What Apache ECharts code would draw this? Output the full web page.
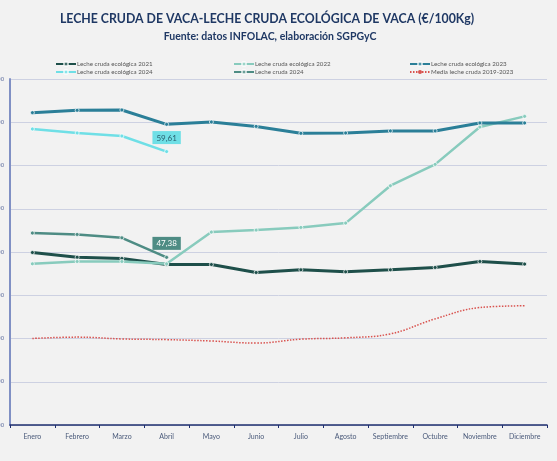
<!DOCTYPE html>
<html>
<head>
<meta charset="utf-8">
<script src="https://cdn.jsdelivr.net/npm/echarts@6/dist/echarts.min.js"></script>
<style>
  html, body { margin: 0; padding: 0; background: #f2f2f2; }
  #chart { width: 557px; height: 461px; }
</style>
</head>
<body>
<div id="chart"></div>
<script>
// datos
const meses = ["Enero", "Febrero", "Marzo", "Abril", "Mayo", "Junio", "Julio", "Agosto", "Septiembre", "Octubre", "Noviembre", "Diciembre"];
const eco2021 = [47.94, 47.40, 47.25, 46.55, 46.55, 45.63, 45.94, 45.71, 45.94, 46.21, 46.90, 46.60];
const eco2022 = [46.63, 46.90, 46.90, 46.63, 50.30, 50.53, 50.84, 51.34, 55.66, 58.13, 62.45, 63.68];
const eco2023 = [64.11, 64.38, 64.42, 62.76, 63.03, 62.52, 61.72, 61.76, 62.00, 62.00, 62.92, 62.92];
const eco2024 = [62.22, 61.76, 61.41, 59.61];
const cruda2024 = [50.19, 50.03, 49.64, 47.38];
const media1923 = [38.00, 38.16, 37.95, 37.87, 37.71, 37.47, 37.92, 38.08, 38.53, 40.27, 41.58, 41.78];
const yMin = 28, yMax = 68, yStep = 5;

const chart = echarts.init(document.getElementById("chart"));

const fmt = v => v.toFixed(2).replace(".", ",");

// serie de línea con puntos pequeños
function linea(name, data, color, width) {
  return {
    name: name,
    type: "line",
    data: data,
    symbol: "circle",
    symbolSize: 4,
    lineStyle: { color: color, width: width },
    itemStyle: { color: color, borderColor: "rgba(255,255,255,0.7)", borderWidth: 1 },
    z: 3,
  };
}

// etiqueta solo en el último punto (Abril)
function ultimaEtiqueta(data, bg, txt) {
  return data.map((v, i) => i === data.length - 1 ? {
    value: v,
    label: {
      show: true,
      position: "top",
      distance: 5,
      formatter: p => fmt(p.value),
      backgroundColor: bg,
      color: txt,
      fontSize: 8,
      fontFamily: "Lato",
      padding: [3, 4, 2, 4],
    },
  } : v);
}

const legendBase = {
  orient: "vertical",
  top: 56,
  itemWidth: 20,
  itemHeight: 5,
  itemGap: 2,
  textStyle: { color: "#555", fontSize: 6.2, fontFamily: "Lato", padding: [0, 0, 0, -4] },
};

const option = {
  backgroundColor: "#f2f2f2",
  animation: false,
  graphic: [
    {
      type: "text",
      x: 267,
      y: 19,
      style: {
        text: "LECHE CRUDA DE VACA-LECHE CRUDA ECOLÓGICA DE VACA (€/100Kg)",
        fill: "#1f3864",
        font: "bold 12.3px Lato",
        align: "center",
        verticalAlign: "middle",
      },
    },
    {
      type: "text",
      x: 270,
      y: 37,
      style: {
        text: "Fuente: datos INFOLAC, elaboración SGPGyC",
        fill: "#1f3864",
        font: "bold 10.5px Lato",
        align: "center",
        verticalAlign: "middle",
      },
    },
  ],
  legend: [
    Object.assign({}, legendBase, { left: 50, data: ["Leche cruda ecológica 2021", "Leche cruda ecológica 2024"] }),
    Object.assign({}, legendBase, { left: 228, data: ["Leche cruda ecológica 2022", "Leche cruda 2024"] }),
    Object.assign({}, legendBase, { left: 404, data: ["Leche cruda ecológica 2023", "Media leche cruda 2019-2023"] }),
  ],
  grid: { left: 10, right: 10, top: 79, bottom: 36, containLabel: false, outerBoundsMode: "none" },
  xAxis: {
    type: "category",
    data: meses,
    boundaryGap: true,
    axisLine: { lineStyle: { color: "#1f2f6f", width: 1.5 } },
    axisTick: { show: true, length: 3, lineStyle: { color: "#1f2f6f" } },
    axisLabel: { color: "#4a5a7a", fontSize: 7, fontFamily: "Lato", margin: 8, interval: 0 },
  },
  yAxis: {
    type: "value",
    min: yMin,
    max: yMax,
    interval: yStep,
    axisLine: { show: true, lineStyle: { color: "#8090c4", width: 2 } },
    axisTick: { show: false },
    axisLabel: { color: "#6070a0", fontSize: 6, margin: 6, formatter: v => fmt(v) },
    splitLine: { lineStyle: { color: "#cdd1e2", width: 1 } },
  },
  series: [
    linea("Leche cruda ecológica 2021", eco2021, "#1e4f4a", 3),
    linea("Leche cruda ecológica 2022", eco2022, "#88cbbd", 2.5),
    linea("Leche cruda ecológica 2023", eco2023, "#2b7f98", 3),
    linea("Leche cruda ecológica 2024", ultimaEtiqueta(eco2024, "#6fdfe6", "#2a5f6e"), "#6fdfe6", 2.5),
    linea("Leche cruda 2024", ultimaEtiqueta(cruda2024, "#4e8c84", "#ffffff"), "#4e8c84", 2.5),
    {
      name: "Media leche cruda 2019-2023",
      type: "line",
      data: media1923,
      smooth: 0.4,
      symbol: "none",
      lineStyle: { color: "#d9534f", width: 1.5, type: [1.5, 1.5] },
      itemStyle: { color: "#d9534f" },
      z: 2,
    },
  ],
};

chart.setOption(option);
</script>
</body>
</html>
